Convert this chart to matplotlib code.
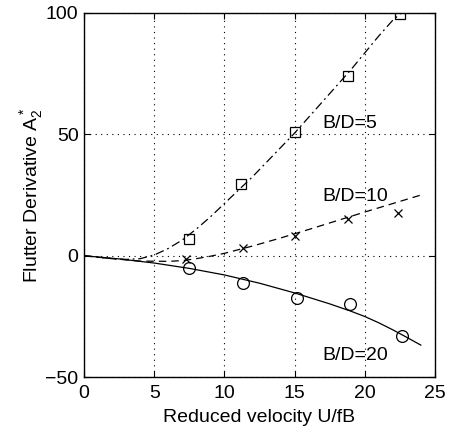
import numpy as np
import matplotlib
matplotlib.use('Agg')
import matplotlib.pyplot as plt

plt.rcParams['font.family'] = ['Liberation Sans', 'DejaVu Sans']
plt.rcParams['mathtext.fontset'] = 'custom'
plt.rcParams['mathtext.rm'] = 'Liberation Sans'
plt.rcParams['mathtext.it'] = 'Liberation Sans'

# measured points
u5 = [7.5, 11.2, 15.0, 18.8, 22.5]
a5 = [6.9, 29.7, 51.1, 74.0, 99.6]
u10 = [7.3, 11.3, 15.0, 18.8, 22.4]
a10 = [-1.5, 3.3, 8.1, 15.1, 17.5]
u20 = [7.5, 11.35, 15.15, 18.95, 22.67]
a20 = [-5.2, -11.1, -17.3, -19.9, -33.1]

# fitted curves
cu5 = [0, 1, 2, 3, 4, 5, 6, 7, 8, 9, 10, 11, 12, 13, 14, 15, 16, 17, 18, 19, 20, 21, 22, 22.6]
ca5 = [0, -0.6, -1.2, -1.5, -1.2, 0.3, 3.0, 6.5, 11, 16, 21.5, 27, 32.5, 38.5, 44.5, 50.5,
       57, 63.5, 70, 76.5, 83.5, 90.5, 97, 100]
cu10 = [0, 2, 4, 6, 7, 8, 9, 10, 12, 14, 16, 18, 20, 22, 24]
ca10 = [0, -1.2, -2.2, -2.3, -2.0, -1.2, -0.2, 1.0, 4.0, 7.3, 10.8, 14.4, 18.0, 21.5, 25.0]
cu20 = [0, 2.5, 5, 7.5, 10, 12.5, 15, 17.5, 19, 20, 21, 22, 23, 24]
ca20 = [0, -1.3, -3.0, -5.2, -7.9, -11.3, -15.3, -19.8, -22.8, -25.0, -27.6, -30.5, -33.6, -36.8]

fig = plt.figure(figsize=(4.52, 4.33), dpi=100)
ax = fig.add_axes([0.186, 0.129, 0.776, 0.841])

lw = 0.9
ax.plot(cu5, ca5, color='black', lw=lw, dashes=[7, 3, 1.5, 3])
ax.plot(cu10, ca10, color='black', lw=lw, dashes=[6, 4])
ax.plot(cu20, ca20, color='black', lw=lw, ls='-')

ax.plot(u5, a5, ls='none', marker='s', ms=6.5, mfc='none', mec='black', mew=0.9)
ax.plot(u10, a10, ls='none', marker='x', ms=5.5, mec='black', mew=0.9)
ax.plot(u20, a20, ls='none', marker='o', ms=8.5, mfc='none', mec='black', mew=0.9)

fs = 14
ax.text(17.0, 54.5, 'B/D=5', fontsize=fs, va='center', ha='left')
ax.text(17.0, 24.5, 'B/D=10', fontsize=fs, va='center', ha='left')
ax.text(17.0, -41, 'B/D=20', fontsize=fs, va='center', ha='left')

ax.set_xlim(0, 25)
ax.set_ylim(-50, 100)
ax.set_xticks([0, 5, 10, 15, 20, 25])
ax.set_yticks([-50, 0, 50, 100])
ax.tick_params(direction='in', length=4, width=0.8, labelsize=fs,
               top=True, right=True)
ax.tick_params(axis='x', pad=6)
ax.tick_params(axis='y', pad=4)
ax.grid(True, color='black', ls=(0, (1, 4)), lw=0.8)
for s in ax.spines.values():
    s.set_linewidth(1.0)

ax.set_xlabel('Reduced velocity U/fB', fontsize=fs, labelpad=5)
ax.set_ylabel(r'Flutter Derivative A$_2^*$', fontsize=fs, labelpad=0)

fig.savefig('out.png', dpi=100)
